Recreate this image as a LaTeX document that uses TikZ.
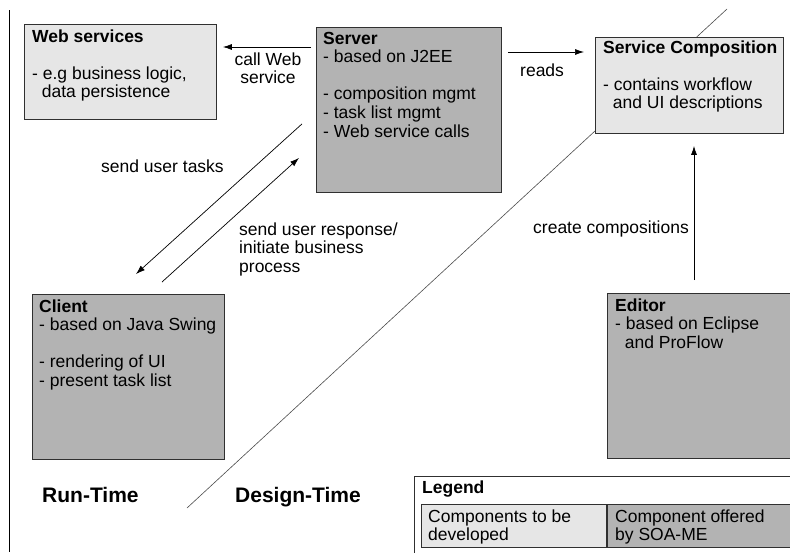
\documentclass[tikz,border=0pt]{standalone}
\usepackage{fontspec}
\setmainfont{Liberation Sans}
\usetikzlibrary{arrows.meta,calc}
\definecolor{lightfill}{HTML}{E6E6E6}
\definecolor{darkfill}{HTML}{B3B3B3}
\definecolor{edge}{HTML}{303030}
\newcommand\mylines[1]{\begin{tabular}[t]{@{}l@{}}#1\end{tabular}}
\newcommand\mylinesc[1]{\begin{tabular}[t]{@{}c@{}}#1\end{tabular}}
\tikzset{
  box/.style={draw=edge, line width=0.9pt, inner sep=0pt, anchor=north west},
  lightbox/.style={box, fill=lightfill},
  darkbox/.style={box, fill=darkfill},
  txt/.style={inner sep=0pt, anchor=base west, font=\fontsize{17.5}{18.6}\selectfont},
  ctxt/.style={inner sep=0pt, anchor=base, font=\fontsize{17.5}{18.6}\selectfont},
  bigtxt/.style={inner sep=0pt, anchor=base west, font=\fontsize{21}{24}\selectfont\bfseries},
  arr/.style={draw=black, line width=0.7pt, -{Latex[length=9pt,width=6pt]}},
  divider/.style={draw=black!70, line width=0.6pt}
}
\renewcommand\arraystretch{1}
\begin{document}
\begin{tikzpicture}[x=1pt,y=-1pt]
\path[use as bounding box] (0,0) rectangle (790,552);
\clip (0,0) rectangle (790,552);
\fill[white] (0,0) rectangle (790,552);

% left border line
\coordinate (lt) at (9,10);
\coordinate (lb) at (9,552);
\draw[line width=0.9pt] (lt) -- (lb);

% divider between run-time and design-time
\coordinate (d1) at (187,508);
\coordinate (d2) at (727,9);
\draw[divider] (d1) -- (d2);

% boxes
\node[lightbox, minimum width=192pt, minimum height=95pt] (ws) at (24,24) {};
\node[darkbox, minimum width=185pt, minimum height=165pt] (srv) at (316,27) {};
\node[lightbox, minimum width=188pt, minimum height=96pt] (sc) at (595,37) {};
\node[darkbox, minimum width=192pt, minimum height=165pt] (cl) at (32,294) {};
\node[darkbox, minimum width=190pt, minimum height=165pt] (ed) at (607,293) {};

% box texts
\node[txt] (wst) at ($(ws.north west)+(8,18)$) {\mylines{\textbf{Web services}\\ \\- e.g business logic,\\ \ \ data persistence}};
\node[txt] (srvt) at ($(srv.north west)+(7,17)$) {\mylines{\textbf{Server}\\- based on J2EE\\ \\- composition mgmt\\- task list mgmt\\- Web service calls}};
\node[txt] (sct) at ($(sc.north west)+(8,16)$) {\mylines{\textbf{Service Composition}\\ \\- contains workflow\\ \ \ and UI descriptions}};
\node[txt] (clt) at ($(cl.north west)+(7,18)$) {\mylines{\textbf{Client}\\- based on Java Swing\\ \\- rendering of UI\\- present task list}};
\node[txt] (edt) at ($(ed.north west)+(8,18)$) {\mylines{\textbf{Editor}\\- based on Eclipse\\ \ \ and ProFlow}};

% legend
\node[box, fill=white, minimum width=400pt, minimum height=100pt] (lg) at (414,476) {};
\node[txt, font=\fontsize{17.5}{18.6}\selectfont\bfseries] (lgt) at ($(lg.north west)+(8,17)$) {Legend};
\node[lightbox, minimum width=185pt, minimum height=43pt] (lg1) at (421,504) {};
\node[darkbox, minimum width=190pt, minimum height=43pt] (lg2) at (607,504) {};
\node[txt] (lg1t) at ($(lg1.north west)+(7,18)$) {\mylines{Components to be\\developed}};
\node[txt] (lg2t) at ($(lg2.north west)+(8,18)$) {\mylines{Component offered\\by SOA-ME}};

% connectors
\draw[arr] ($(srv.north west)+(-5,20)$) -- ($(ws.north east)+(6,23)$);
\node[ctxt] (lbl1) at (268,65) {\mylinesc{call Web\\service}};
\draw[arr] ($(srv.north east)+(6,25)$) -- ($(sc.north west)+(-11,15)$);
\node[txt] (lbl2) at (520,76) {reads};
\draw[arr] ($(srv.south west)+(-14,-69)$) -- ($(cl.north west)+(104,-20)$);
\draw[arr] ($(cl.north west)+(130,-12)$) -- ($(srv.south west)+(-17,-35)$);
\node[txt] (lbl3) at (101,172) {send user tasks};
\node[txt] (lbl4) at (239,235) {\mylines{send user response/\\initiate business\\process}};
\draw[arr] ($(ed.north west)+(87,-13)$) -- ($(sc.south west)+(99,12)$);
\node[txt] (lbl5) at (533,233) {create compositions};

% phase labels
\node[bigtxt] (rt) at (42,502) {Run-Time};
\node[bigtxt] (dt) at (235,502) {Design-Time};
\end{tikzpicture}
\end{document}
